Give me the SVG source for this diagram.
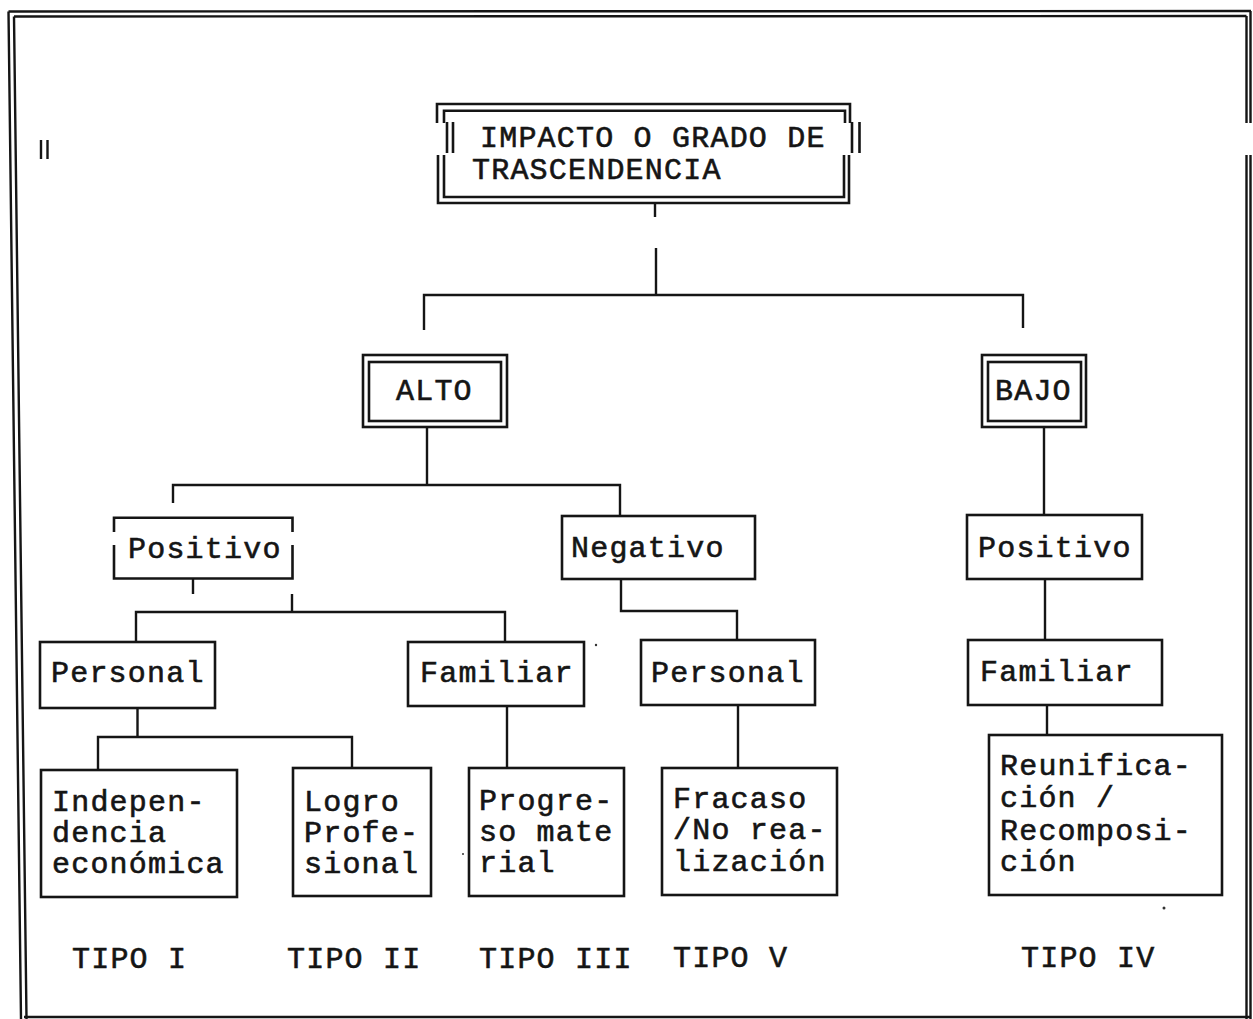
<svg xmlns="http://www.w3.org/2000/svg" width="1253" height="1019" viewBox="0 0 1253 1019">
<style>
.fr{fill:none;stroke:#151515;stroke-width:2.4}
.bx{fill:none;stroke:#151515;stroke-width:2.6}
.ln{fill:none;stroke:#151515;stroke-width:2.4}
text{font-family:"Liberation Mono","Courier New",monospace;font-size:30px;letter-spacing:1.2px;fill:#151515;stroke:#151515;stroke-width:0.6}
.dot{fill:#333}
</style>
<rect width="1253" height="1019" fill="#ffffff"/>
<g id="frame">
<path class="fr" d="M8.5,11.5 L1251,11 M14,16.5 L1246.5,16"/>
<path class="fr" d="M8.5,11.5 L21,1019 M14,16.5 L26.5,1019"/>
<path class="fr" d="M1250.5,11 V123 M1250.5,155 V1019 M1246.5,16 V123 M1246.5,155 V1019"/>
<path class="fr" d="M24,1017 H1251"/>
<path class="fr" d="M41,140 V159 M47.5,140 V159" stroke-width="3"/>
</g>
<g id="connectors">
<path class="ln" d="M655,204 V217 M656,248 V295 M424,330 V295 H1023 V328"/>
<path class="ln" d="M427,427 V485 M173,503 V485 H620 V516"/>
<path class="ln" d="M193,578 V594 M292,594 V612 M136,642 V612 H505 V642"/>
<path class="ln" d="M621,579 V611 H737 V640"/>
<path class="ln" d="M1044,427 V515 M1045,579 V640"/>
<path class="ln" d="M137.5,708 V737 M98,769 V737 H352 V768"/>
<path class="ln" d="M507,706 V768 M738,705 V768 M1047,705 V735"/>
</g>
<g id="n-impacto">
<path class="bx" d="M437,123 V104 H850 V123 M438,155 V203 H849 V155"/>
<path class="bx" d="M444,123 V110.7 H845 V123 M444,155 V197 H844 V155"/>
<path class="bx" d="M447,122 V153 M453,122 V153 M852,122 V153 M859.5,122 V153"/>
<text x="480" y="147">IMPACTO O GRADO DE</text>
<text x="472" y="179">TRASCENDENCIA</text>
</g>
<g id="n-alto">
<rect class="bx" x="363" y="355" width="144" height="72"/>
<rect class="bx" x="369" y="362" width="132" height="59"/>
<text x="396" y="400">ALTO</text>
</g>
<g id="n-bajo">
<rect class="bx" x="982" y="355" width="104" height="72"/>
<rect class="bx" x="988" y="362" width="93" height="59"/>
<text x="995" y="400">BAJO</text>
</g>
<g id="n-positivo-alto">
<path class="bx" d="M114,532 V517.7 H292.5 V532 M114,545 V578.5 H292.5 V545"/>
<text x="128" y="558">Positivo</text>
</g>
<g id="n-negativo">
<rect class="bx" x="562" y="516" width="193" height="63"/>
<text x="571" y="557">Negativo</text>
</g>
<g id="n-positivo-bajo">
<rect class="bx" x="967" y="515" width="175" height="64"/>
<text x="978" y="557">Positivo</text>
</g>
<g id="n-personal-pos">
<rect class="bx" x="40" y="642" width="175" height="66"/>
<text x="51" y="682">Personal</text>
</g>
<g id="n-familiar-pos">
<rect class="bx" x="408" y="642" width="176" height="64"/>
<text x="420" y="682">Familiar</text>
</g>
<g id="n-personal-neg">
<rect class="bx" x="641" y="640" width="174" height="65"/>
<text x="651" y="682">Personal</text>
</g>
<g id="n-familiar-bajo">
<rect class="bx" x="968" y="640" width="194" height="65"/>
<text x="980" y="681">Familiar</text>
</g>
<g id="n-independencia">
<rect class="bx" x="41" y="770" width="196" height="127"/>
<text x="52" y="811">Indepen-<tspan x="52" y="842">dencia</tspan><tspan x="52" y="873">económica</tspan></text>
</g>
<g id="n-logro">
<rect class="bx" x="293" y="768" width="138" height="128"/>
<text x="304" y="811">Logro<tspan x="304" y="842">Profe-</tspan><tspan x="304" y="873">sional</tspan></text>
</g>
<g id="n-progreso">
<rect class="bx" x="469" y="768" width="155" height="128"/>
<text x="479" y="810">Progre-<tspan x="479" y="841">so mate</tspan><tspan x="479" y="872">rial</tspan></text>
</g>
<g id="n-fracaso">
<rect class="bx" x="662" y="768" width="175" height="127"/>
<text x="673" y="808">Fracaso<tspan x="673" y="839">/No rea-</tspan><tspan x="673" y="871">lización</tspan></text>
</g>
<g id="n-reunificacion">
<rect class="bx" x="989" y="735" width="233" height="160"/>
<text x="1000" y="775">Reunifica-<tspan x="1000" y="807">ción /</tspan><tspan x="1000" y="840">Recomposi-</tspan><tspan x="1000" y="871">ción</tspan></text>
</g>
<g id="labels">
<text x="72" y="968">TIPO I</text>
<text x="287" y="968">TIPO II</text>
<text x="479" y="968">TIPO III</text>
<text x="673" y="967">TIPO V</text>
<text x="1021" y="967">TIPO IV</text>
</g>
<g id="specks">
<circle class="dot" cx="1164" cy="908" r="1.5"/>
<circle class="dot" cx="596" cy="645" r="1.2"/>
<circle class="dot" cx="463" cy="854" r="1"/>
</g>
</svg>
